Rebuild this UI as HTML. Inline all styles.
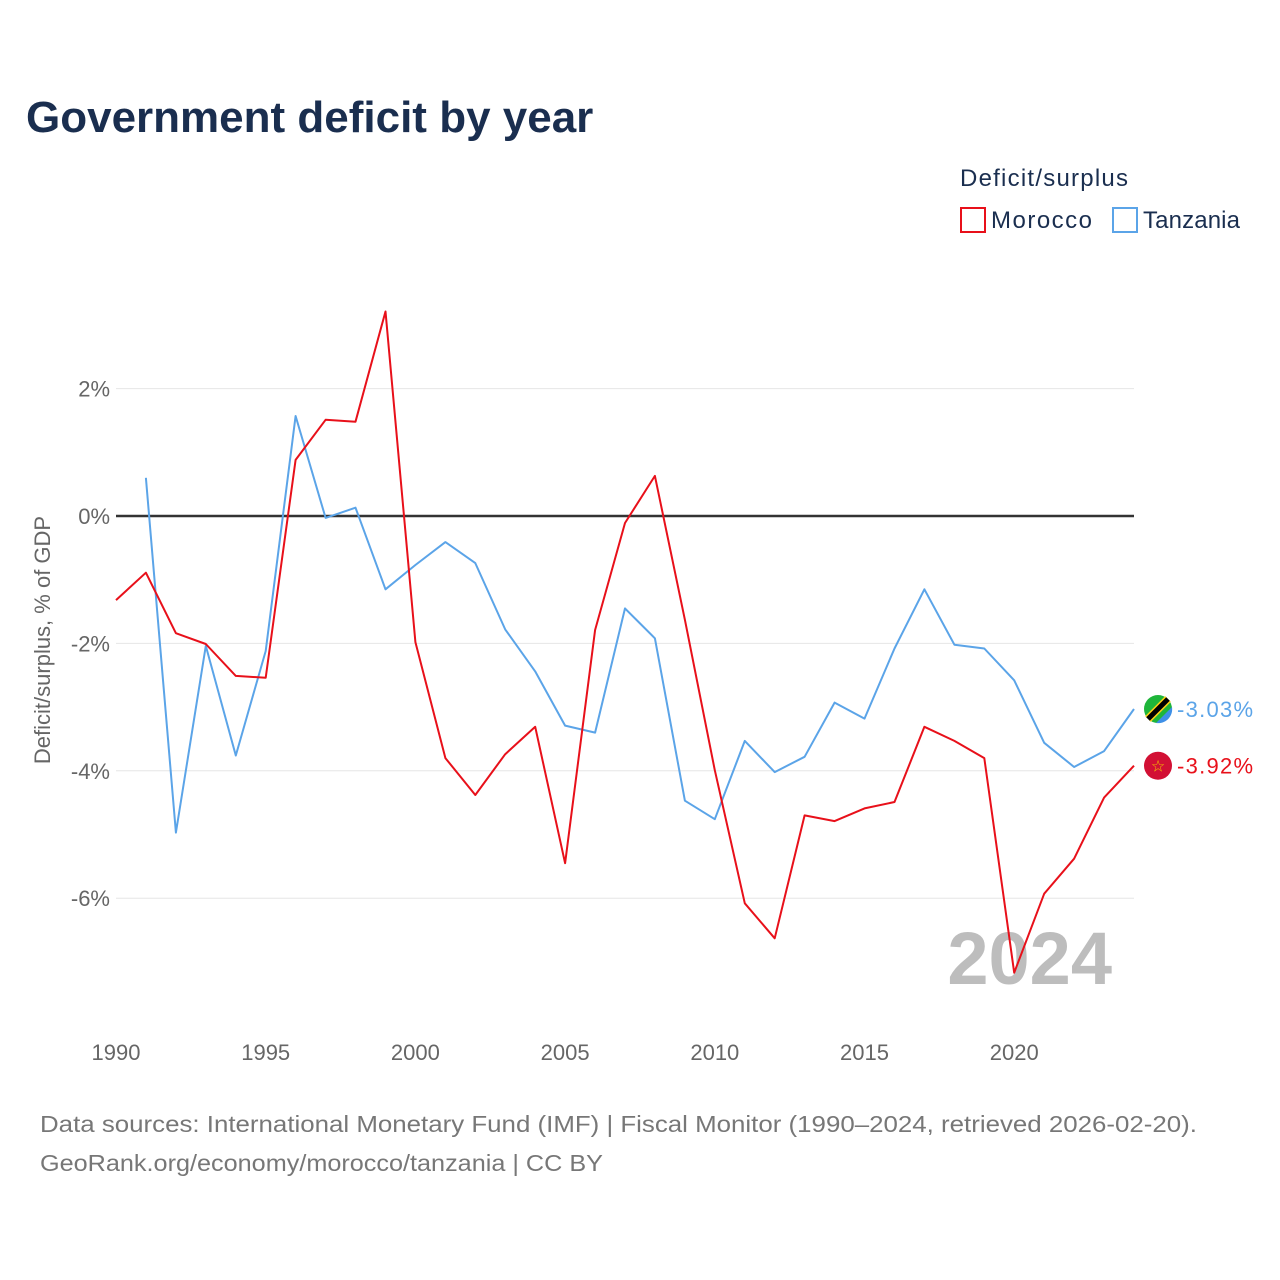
<!DOCTYPE html>
<html><head><meta charset="utf-8">
<style>
body{margin:0;background:#fff;font-family:"Liberation Sans",sans-serif;}
#wrap{position:relative;width:1280px;height:1280px;overflow:hidden;}
</style></head>
<body><div id="wrap">
<svg id="chart" width="1280" height="1280" xmlns="http://www.w3.org/2000/svg"></svg>
</div>
<script>
const years=[1990,1991,1992,1993,1994,1995,1996,1997,1998,1999,2000,2001,2002,2003,2004,2005,2006,2007,2008,2009,2010,2011,2012,2013,2014,2015,2016,2017,2018,2019,2020,2021,2022,2023,2024];
const morocco=[-1.32,-0.89,-1.84,-2.01,-2.51,-2.54,0.88,1.51,1.48,3.21,-1.98,-3.80,-4.38,-3.74,-3.31,-5.45,-1.79,-0.11,0.63,-1.63,-3.99,-6.08,-6.63,-4.70,-4.79,-4.59,-4.49,-3.31,-3.53,-3.80,-7.17,-5.93,-5.38,-4.42,-3.92];
const tanzania=[null,0.60,-4.97,-2.04,-3.76,-2.12,1.57,-0.03,0.13,-1.15,-0.77,-0.41,-0.74,-1.78,-2.44,-3.29,-3.40,-1.45,-1.92,-4.47,-4.76,-3.53,-4.02,-3.78,-2.93,-3.18,-2.08,-1.15,-2.02,-2.08,-2.58,-3.56,-3.94,-3.69,-3.03];
const yTicks=[2,0,-2,-4,-6];
const xTicks=[1990,1995,2000,2005,2010,2015,2020];
const NS="http://www.w3.org/2000/svg";
const svg=document.getElementById('chart');
const x=v=>116+(v-1990)*(1134-116)/34;
const y=v=>516-v*63.7;
function el(tag,attrs,text){const e=document.createElementNS(NS,tag);for(const k in attrs)e.setAttribute(k,attrs[k]);if(text!=null)e.textContent=text;svg.appendChild(e);return e;}
let t;
t=el('text',{x:26,y:132,'font-size':44,'font-weight':'bold',fill:'#1a2e4f'},'Government deficit by year');


t=el('text',{x:960,y:186,'font-size':24,fill:'#1a2e4f',textLength:168},'Deficit/surplus');


t=el('rect',{x:961,y:208,width:24,height:24,fill:'none',stroke:'#e8101a','stroke-width':2});


t=el('text',{x:991,y:228,'font-size':24,fill:'#1a2e4f',textLength:101},'Morocco');


t=el('rect',{x:1113,y:208,width:24,height:24,fill:'none',stroke:'#5ba4e8','stroke-width':2});


t=el('text',{x:1143,y:228,'font-size':24,fill:'#1a2e4f',textLength:97},'Tanzania');


yTicks.forEach(v=>{
  const g=el('line',{x1:116,x2:1134,y1:y(v),y2:y(v),stroke:v===0?'#333':'#e6e6e6','stroke-width':v===0?2.5:1});
  
  
  const l=el('text',{x:110,y:y(v)+8,'font-size':22,fill:'#666','text-anchor':'end'},v+'%');
  
  
});
xTicks.forEach(v=>{
  const l=el('text',{x:x(v),y:1060,'font-size':22,fill:'#666','text-anchor':'middle'},String(v));
  
  
});
t=el('text',{x:50,y:640,'font-size':22,fill:'#666','text-anchor':'middle',transform:'rotate(-90 50 640)'},'Deficit/surplus, % of GDP');


t=el('text',{x:1112,y:984,'font-size':74,'font-weight':'bold',fill:'#bdbdbd','text-anchor':'end'},'2024');


function line(vals,color,name){
  let d='';vals.forEach((v,i)=>{if(v==null)return;d+=(d?'L':'M')+x(years[i]).toFixed(1)+','+y(v).toFixed(1);});
  const p=el('path',{d:d,fill:'none',stroke:color,'stroke-width':2,'stroke-linejoin':'round'});
  
  
}
line(tanzania,'#5ba4e8','line-tanzania');
line(morocco,'#e8101a','line-morocco');
const lt=tanzania[tanzania.length-1], lm=morocco[morocco.length-1];
let cx=1158, cy=y(lt);
t=el('circle',{cx:cx,cy:cy,r:14,fill:'#1eb53a'});


el('path',{d:`M${cx+14},${cy-2} A14,14 0 0 1 ${cx-2},${cy+14} Z`,fill:'#3e8fe8'});
el('line',{x1:cx-10,y1:cy+10,x2:cx+10,y2:cy-10,stroke:'#fcd116','stroke-width':8});
el('line',{x1:cx-10,y1:cy+10,x2:cx+10,y2:cy-10,stroke:'#000','stroke-width':5});
t=el('text',{x:1177,y:y(lt)+8,'font-size':22,fill:'#5ba4e8',textLength:76},lt.toFixed(2)+'%');


cy=y(lm);
t=el('circle',{cx:cx,cy:cy,r:14,fill:'#d21034'});


el('text',{x:cx,y:cy+6,'font-size':16,fill:'#f5c400','text-anchor':'middle'},'☆');
t=el('text',{x:1177,y:y(lm)+8,'font-size':22,fill:'#e8101a',textLength:76},lm.toFixed(2)+'%');


t=el('text',{x:40,y:1132,'font-size':23,fill:'#777',textLength:1157,lengthAdjust:'spacingAndGlyphs'},'Data sources: International Monetary Fund (IMF) | Fiscal Monitor (1990–2024, retrieved 2026-02-20).');


t=el('text',{x:40,y:1171,'font-size':23,fill:'#777',textLength:563,lengthAdjust:'spacingAndGlyphs'},'GeoRank.org/economy/morocco/tanzania | CC BY');


</script>
</body></html>
